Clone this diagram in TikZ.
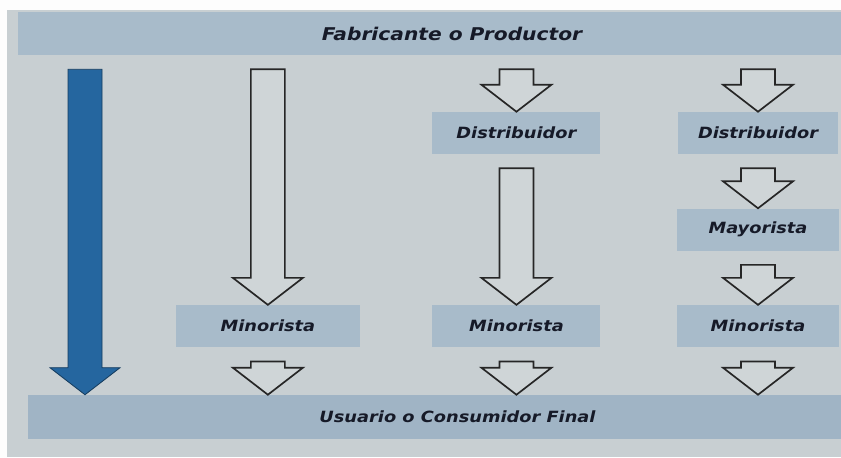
\documentclass[tikz,border=0pt]{standalone}
\usepackage{fontspec}
\usepackage{xcolor}
\usepackage{tikz}
\usetikzlibrary{positioning, calc}

\newfontfamily\rotulo[FakeStretch=1.15, BoldItalicFont={* Bold Oblique}]{DejaVu Sans}

\definecolor{pantalla}{HTML}{C8CFD2}
\definecolor{barra}{HTML}{A8BBCA}
\definecolor{barraosc}{HTML}{A0B4C5}
\definecolor{azulflecha}{HTML}{25669F}
\definecolor{tinta}{HTML}{161A28}

% block arrow: #2 source node, #3 tip point
\newcommand{\flecha}[3][hueca]{%
  \draw[#1] (#3) -- ++(-0.875,0.675) -- ++(0.45,0)
    -- ($(#3 |- #2.south)+(-0.425,-0.35)$) -- ++(0.85,0)
    -- ($(#3)+(0.425,0.675)$) -- ++(0.45,0) -- cycle;}

\begin{document}
\begin{tikzpicture}[node distance=1.35cm, auto]
				% Styles
				\tikzstyle{caja} = [fill=barra, rectangle, minimum height=1.05cm, inner sep=0pt, align=center, text=tinta, font=\rotulo\fontsize{11}{13}\selectfont\bfseries\itshape]
				\tikzstyle{franja} = [caja, minimum height=1.1cm]
				\tikzstyle{hueca} = [draw=black!85, line width=1.2pt, fill=pantalla!88!white, line join=miter]
				\tikzstyle{azul} = [draw=azulflecha!60!black, line width=0.6pt, fill=azulflecha]

				% Screen
				\useasboundingbox (0,0) rectangle (21.025,-11.425);
				\clip (0,0) rectangle (21.025,-11.425);
				\fill[white!96!pantalla] (0,0) rectangle (21.025,-11.425);
				\fill[pantalla] (0.175,-0.25) rectangle (21.025,-11.425);

				% Nodes
				\node (fabricante) [franja, minimum height=1.075cm, minimum width=21.7cm, font=\rotulo\fontsize{12.5}{15}\selectfont\bfseries\itshape] at (11.3,-0.8375) {Fabricante o Productor};
				\node (usuario) [franja, fill=barraosc, minimum width=21.475cm] at (11.4375,-10.425) {Usuario o Consumidor Final};

				\node (dist3) [caja, minimum width=4.0cm] at (18.95,-3.325) {Distribuidor};
				\node (may3) [caja, minimum width=4.05cm, below=of dist3] {Mayorista};
				\node (min3) [caja, minimum width=4.05cm, below=of may3] {Minorista};
				\node (min2) [caja, minimum width=4.2cm, left=1.9cm of min3] {Minorista};
				\node (dist2) [caja, minimum width=4.2cm] at (min2 |- dist3) {Distribuidor};
				\node (min1) [caja, minimum width=4.6cm, left=1.8cm of min2] {Minorista};

				\coordinate (izq) at (2.125,0);
				\coordinate (pazul) at (izq |- usuario.north);
				\coordinate (p1) at (min1.south |- usuario.north);
				\coordinate (p2) at (min2.south |- usuario.north);
				\coordinate (p3) at (min3.south |- usuario.north);

				% Connections
				\flecha[azul]{fabricante}{pazul}
				\flecha{fabricante}{min1.north}
				\flecha{fabricante}{dist2.north}
				\flecha{dist2}{min2.north}
				\flecha{fabricante}{dist3.north}
				\flecha{dist3}{may3.north}
				\flecha{may3}{min3.north}
				\flecha{min1}{p1}
				\flecha{min2}{p2}
				\flecha{min3}{p3}

\end{tikzpicture}
\end{document}
